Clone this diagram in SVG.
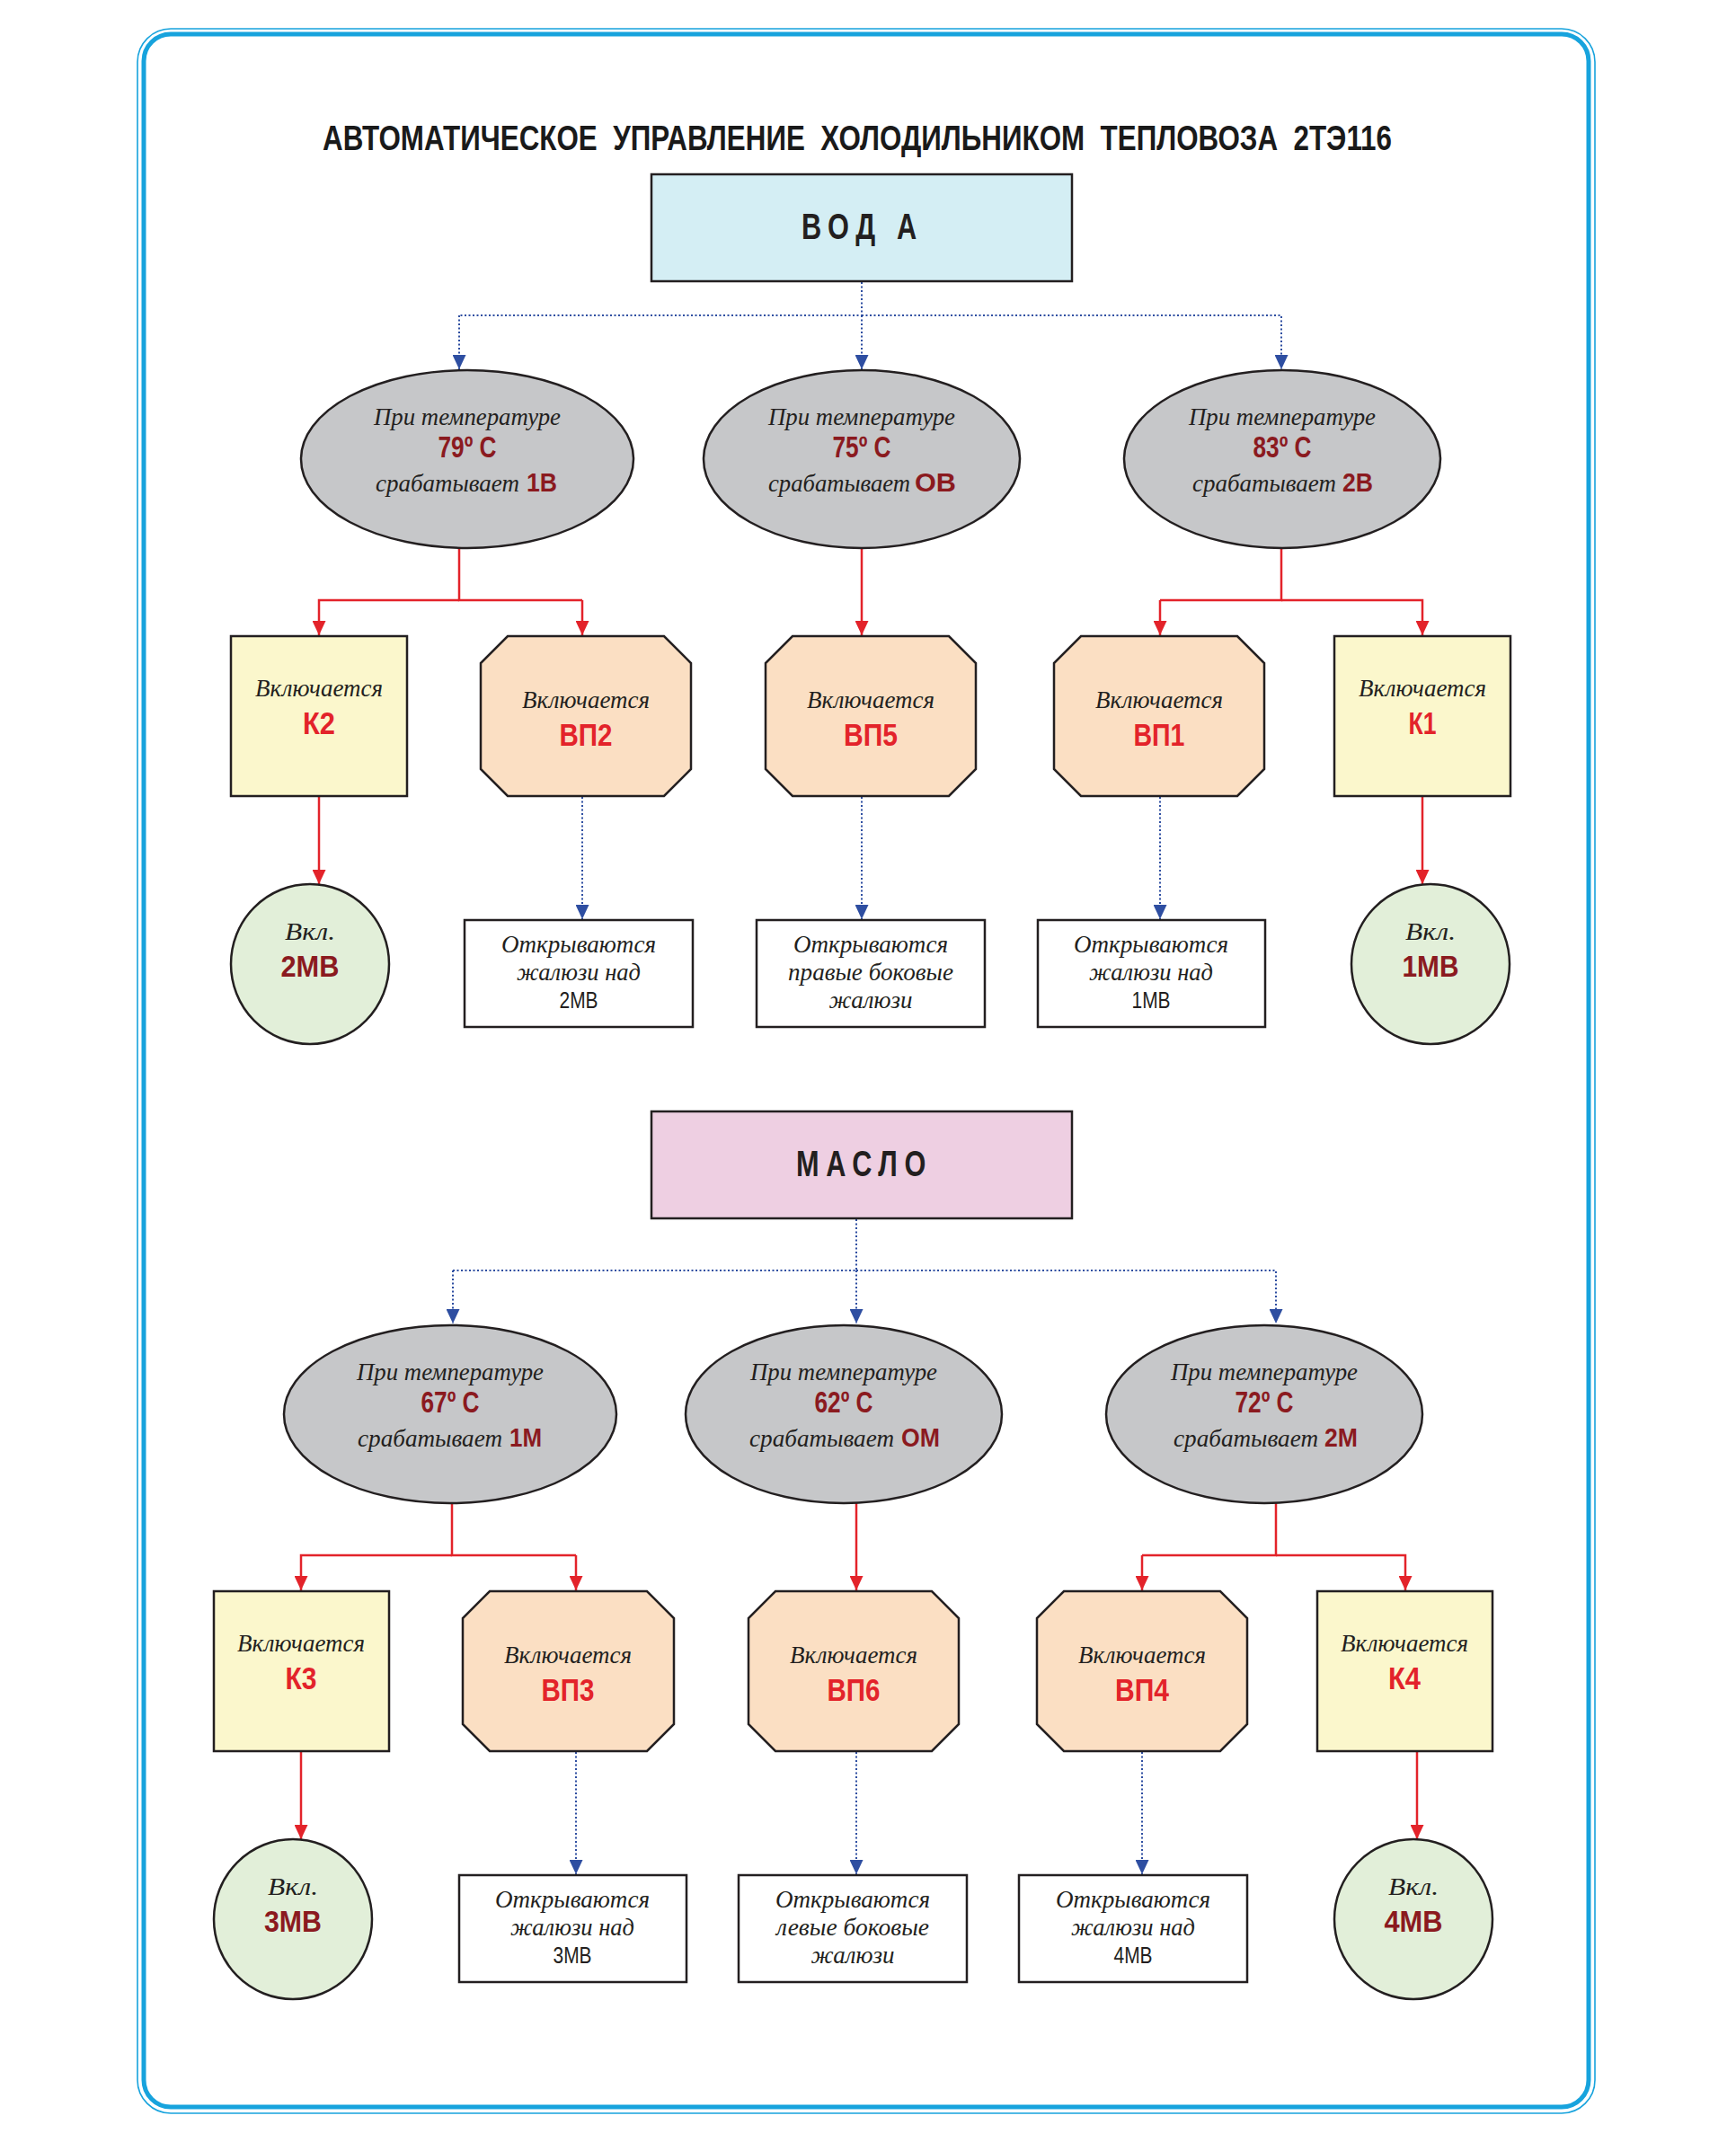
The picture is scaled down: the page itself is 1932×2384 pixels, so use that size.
<svg xmlns="http://www.w3.org/2000/svg" width="1932" height="2384" viewBox="0 0 1932 2384">
<style>
.n{stroke:#231f20;stroke-width:2.5}
.ell{fill:#c6c7c9}
.yel{fill:#fbf7cc}
.oct{fill:#fbdfc3}
.grn{fill:#e2efd9}
.box{fill:#ffffff}
.it{font-family:"Liberation Serif",serif;font-style:italic;font-size:28px;fill:#231f20;text-anchor:middle}
.b{font-family:"Liberation Sans Narrow","Liberation Sans",sans-serif;font-weight:bold;text-anchor:middle}
.dr{fill:#8b1a1f}
.rd{fill:#e3232a}
.t{font-size:33px}
.c{font-size:29px}
.lab{font-size:35px}
.sans{font-family:"Liberation Sans Narrow","Liberation Sans",sans-serif;font-size:26px;text-anchor:middle;fill:#231f20}
.st{text-anchor:start}
.red{stroke:#e3232a;stroke-width:2.5;fill:none;marker-end:url(#ar)}
.redn{stroke:#e3232a;stroke-width:2.5;fill:none}
.blue{stroke:#2e4ea1;stroke-width:2;stroke-dasharray:2 2.5;fill:none;marker-end:url(#ab)}
.bluen{stroke:#2e4ea1;stroke-width:2;stroke-dasharray:2 2.5;fill:none}
</style>
<defs>
<marker id="ar" markerUnits="userSpaceOnUse" markerWidth="16" markerHeight="15" viewBox="0 0 16 15" refX="16" refY="7.5" orient="auto"><path d="M0,0 L16,7.5 L0,15 z" fill="#e3232a"/></marker>
<marker id="ab" markerUnits="userSpaceOnUse" markerWidth="16" markerHeight="15" viewBox="0 0 16 15" refX="16" refY="7.5" orient="auto"><path d="M0,0 L16,7.5 L0,15 z" fill="#2e4ea1"/></marker>
</defs>
<rect width="1932" height="2384" fill="#ffffff"/>
<g id="frame" fill="none" stroke="#17a3dd">
<rect x="153" y="32" width="1622" height="2320" rx="37" stroke-width="1.6"/>
<rect x="160" y="38" width="1608" height="2307" rx="30" stroke-width="5"/>
</g>
<text id="title" x="954" y="167" class="b" font-size="39" fill="#1a1a1a" xml:space="preserve" textLength="1190" lengthAdjust="spacingAndGlyphs">АВТОМАТИЧЕСКОЕ  УПРАВЛЕНИЕ  ХОЛОДИЛЬНИКОМ  ТЕПЛОВОЗА  2ТЭ116</text>

<g id="connectors">
<path class="bluen" d="M959,314 V351 H511"/>
<path class="blue" d="M511,351 V411"/>
<path class="blue" d="M959,351 V411"/>
<path class="blue" d="M959,351 H1426 V411"/>
<path class="redn" d="M511,610 V668 H648"/>
<path class="red" d="M511,668 H355 V707"/>
<path class="red" d="M648,668 V707"/>
<path class="red" d="M959,610 V707"/>
<path class="redn" d="M1426,610 V668 H1291"/>
<path class="red" d="M1291,668 V707"/>
<path class="red" d="M1426,668 H1583 V707"/>
<path class="red" d="M355,887 V984"/>
<path class="red" d="M1583,887 V984"/>
<path class="blue" d="M648,887 V1023"/>
<path class="blue" d="M959,887 V1023"/>
<path class="blue" d="M1291,887 V1023"/>

<path class="bluen" d="M953,1357 V1414 H504"/>
<path class="blue" d="M504,1414 V1473"/>
<path class="blue" d="M953,1414 V1473"/>
<path class="blue" d="M953,1414 H1420 V1473"/>
<path class="redn" d="M503,1672 V1731 H641"/>
<path class="red" d="M503,1731 H335 V1770"/>
<path class="red" d="M641,1731 V1770"/>
<path class="red" d="M953,1672 V1770"/>
<path class="redn" d="M1420,1672 V1731 H1271"/>
<path class="red" d="M1271,1731 V1770"/>
<path class="red" d="M1420,1731 H1564 V1770"/>
<path class="red" d="M335,1950 V2047"/>
<path class="red" d="M1577,1950 V2047"/>
<path class="blue" d="M641,1950 V2086"/>
<path class="blue" d="M953,1950 V2086"/>
<path class="blue" d="M1271,1950 V2086"/>
</g>

<g id="voda">
<rect class="n" x="725" y="194" width="468" height="119" fill="#d4eef4"/>
<text x="960" y="266" class="b" font-size="40" fill="#231f20" letter-spacing="10" xml:space="preserve" textLength="136" lengthAdjust="spacingAndGlyphs">ВОД А</text>
</g>

<g id="e1">
<ellipse class="n ell" cx="520" cy="511" rx="185" ry="99"/>
<text class="it" x="520" y="473" textLength="208" lengthAdjust="spacingAndGlyphs">При температуре</text>
<text class="b dr t" x="520" y="509" textLength="65" lengthAdjust="spacingAndGlyphs">79º C</text>
<text class="it st" x="418" y="547" textLength="160" lengthAdjust="spacingAndGlyphs">срабатывает</text>
<text class="b dr c st" x="586" y="547" textLength="34" lengthAdjust="spacingAndGlyphs">1В</text>
</g>
<g id="e2">
<ellipse class="n ell" cx="959" cy="511" rx="176" ry="99"/>
<text class="it" x="959" y="473" textLength="208" lengthAdjust="spacingAndGlyphs">При температуре</text>
<text class="b dr t" x="959" y="509" textLength="65" lengthAdjust="spacingAndGlyphs">75º C</text>
<text class="it st" x="855" y="547" textLength="158" lengthAdjust="spacingAndGlyphs">срабатывает</text>
<text class="b dr c st" x="1018" y="547" textLength="46" lengthAdjust="spacingAndGlyphs">ОВ</text>
</g>
<g id="e3">
<ellipse class="n ell" cx="1427" cy="511" rx="176" ry="99"/>
<text class="it" x="1427" y="473" textLength="208" lengthAdjust="spacingAndGlyphs">При температуре</text>
<text class="b dr t" x="1427" y="509" textLength="65" lengthAdjust="spacingAndGlyphs">83º C</text>
<text class="it st" x="1327" y="547" textLength="160" lengthAdjust="spacingAndGlyphs">срабатывает</text>
<text class="b dr c st" x="1494" y="547" textLength="34" lengthAdjust="spacingAndGlyphs">2В</text>
</g>

<g id="k2">
<rect class="n yel" x="257" y="708" width="196" height="178"/>
<text class="it" x="355" y="775" textLength="142" lengthAdjust="spacingAndGlyphs">Включается</text>
<text class="b rd lab" x="355" y="817" textLength="36" lengthAdjust="spacingAndGlyphs">К2</text>
</g>
<g id="vp2">
<polygon class="n oct" points="565,708 739,708 769,738 769,856 739,886 565,886 535,856 535,738"/>
<text class="it" x="652" y="788" textLength="142" lengthAdjust="spacingAndGlyphs">Включается</text>
<text class="b rd lab" x="652" y="830" textLength="59" lengthAdjust="spacingAndGlyphs">ВП2</text>
</g>
<g id="vp5">
<polygon class="n oct" points="882,708 1056,708 1086,738 1086,856 1056,886 882,886 852,856 852,738"/>
<text class="it" x="969" y="788" textLength="142" lengthAdjust="spacingAndGlyphs">Включается</text>
<text class="b rd lab" x="969" y="830" textLength="60" lengthAdjust="spacingAndGlyphs">ВП5</text>
</g>
<g id="vp1">
<polygon class="n oct" points="1203,708 1377,708 1407,738 1407,856 1377,886 1203,886 1173,856 1173,738"/>
<text class="it" x="1290" y="788" textLength="142" lengthAdjust="spacingAndGlyphs">Включается</text>
<text class="b rd lab" x="1290" y="830" textLength="57" lengthAdjust="spacingAndGlyphs">ВП1</text>
</g>
<g id="k1">
<rect class="n yel" x="1485" y="708" width="196" height="178"/>
<text class="it" x="1583" y="775" textLength="142" lengthAdjust="spacingAndGlyphs">Включается</text>
<text class="b rd lab" x="1583" y="817" textLength="31" lengthAdjust="spacingAndGlyphs">К1</text>
</g>

<g id="mv2">
<ellipse class="n grn" cx="345" cy="1073" rx="88" ry="89"/>
<text class="it" x="345" y="1046" textLength="56" lengthAdjust="spacingAndGlyphs">Вкл.</text>
<text class="b dr t" x="345" y="1087" textLength="65" lengthAdjust="spacingAndGlyphs">2МВ</text>
</g>
<g id="box2mv">
<rect class="n box" x="517" y="1024" width="254" height="119"/>
<text class="it" x="644" y="1060" textLength="172" lengthAdjust="spacingAndGlyphs">Открываются</text>
<text class="it" x="644" y="1091" textLength="138" lengthAdjust="spacingAndGlyphs">жалюзи над</text>
<text class="sans" x="644" y="1122" textLength="43" lengthAdjust="spacingAndGlyphs">2МВ</text>
</g>
<g id="boxright">
<rect class="n box" x="842" y="1024" width="254" height="119"/>
<text class="it" x="969" y="1060" textLength="172" lengthAdjust="spacingAndGlyphs">Открываются</text>
<text class="it" x="969" y="1091" textLength="184" lengthAdjust="spacingAndGlyphs">правые боковые</text>
<text class="it" x="969" y="1122" textLength="93" lengthAdjust="spacingAndGlyphs">жалюзи</text>
</g>
<g id="box1mv">
<rect class="n box" x="1155" y="1024" width="253" height="119"/>
<text class="it" x="1281" y="1060" textLength="172" lengthAdjust="spacingAndGlyphs">Открываются</text>
<text class="it" x="1281" y="1091" textLength="138" lengthAdjust="spacingAndGlyphs">жалюзи над</text>
<text class="sans" x="1281" y="1122" textLength="43" lengthAdjust="spacingAndGlyphs">1МВ</text>
</g>
<g id="mv1">
<ellipse class="n grn" cx="1592" cy="1073" rx="88" ry="89"/>
<text class="it" x="1592" y="1046" textLength="56" lengthAdjust="spacingAndGlyphs">Вкл.</text>
<text class="b dr t" x="1592" y="1087" textLength="63" lengthAdjust="spacingAndGlyphs">1МВ</text>
</g>

<g id="maslo">
<rect class="n" x="725" y="1237" width="468" height="119" fill="#eecfe2"/>
<text x="962" y="1309" class="b" font-size="40" fill="#231f20" letter-spacing="10" textLength="152" lengthAdjust="spacingAndGlyphs">МАСЛО</text>
</g>

<g id="e4">
<ellipse class="n ell" cx="501" cy="1574" rx="185" ry="99"/>
<text class="it" x="501" y="1536" textLength="208" lengthAdjust="spacingAndGlyphs">При температуре</text>
<text class="b dr t" x="501" y="1572" textLength="65" lengthAdjust="spacingAndGlyphs">67º C</text>
<text class="it st" x="398" y="1610" textLength="161" lengthAdjust="spacingAndGlyphs">срабатывает</text>
<text class="b dr c st" x="567" y="1610" textLength="36" lengthAdjust="spacingAndGlyphs">1М</text>
</g>
<g id="e5">
<ellipse class="n ell" cx="939" cy="1574" rx="176" ry="99"/>
<text class="it" x="939" y="1536" textLength="208" lengthAdjust="spacingAndGlyphs">При температуре</text>
<text class="b dr t" x="939" y="1572" textLength="65" lengthAdjust="spacingAndGlyphs">62º C</text>
<text class="it st" x="834" y="1610" textLength="161" lengthAdjust="spacingAndGlyphs">срабатывает</text>
<text class="b dr c st" x="1003" y="1610" textLength="43" lengthAdjust="spacingAndGlyphs">ОМ</text>
</g>
<g id="e6">
<ellipse class="n ell" cx="1407" cy="1574" rx="176" ry="99"/>
<text class="it" x="1407" y="1536" textLength="208" lengthAdjust="spacingAndGlyphs">При температуре</text>
<text class="b dr t" x="1407" y="1572" textLength="65" lengthAdjust="spacingAndGlyphs">72º C</text>
<text class="it st" x="1306" y="1610" textLength="161" lengthAdjust="spacingAndGlyphs">срабатывает</text>
<text class="b dr c st" x="1474" y="1610" textLength="37" lengthAdjust="spacingAndGlyphs">2М</text>
</g>

<g id="k3">
<rect class="n yel" x="238" y="1771" width="195" height="178"/>
<text class="it" x="335" y="1838" textLength="142" lengthAdjust="spacingAndGlyphs">Включается</text>
<text class="b rd lab" x="335" y="1880" textLength="35" lengthAdjust="spacingAndGlyphs">К3</text>
</g>
<g id="vp3">
<polygon class="n oct" points="545,1771 720,1771 750,1801 750,1919 720,1949 545,1949 515,1919 515,1801"/>
<text class="it" x="632" y="1851" textLength="142" lengthAdjust="spacingAndGlyphs">Включается</text>
<text class="b rd lab" x="632" y="1893" textLength="59" lengthAdjust="spacingAndGlyphs">ВП3</text>
</g>
<g id="vp6">
<polygon class="n oct" points="863,1771 1037,1771 1067,1801 1067,1919 1037,1949 863,1949 833,1919 833,1801"/>
<text class="it" x="950" y="1851" textLength="142" lengthAdjust="spacingAndGlyphs">Включается</text>
<text class="b rd lab" x="950" y="1893" textLength="59" lengthAdjust="spacingAndGlyphs">ВП6</text>
</g>
<g id="vp4">
<polygon class="n oct" points="1184,1771 1358,1771 1388,1801 1388,1919 1358,1949 1184,1949 1154,1919 1154,1801"/>
<text class="it" x="1271" y="1851" textLength="142" lengthAdjust="spacingAndGlyphs">Включается</text>
<text class="b rd lab" x="1271" y="1893" textLength="60" lengthAdjust="spacingAndGlyphs">ВП4</text>
</g>
<g id="k4">
<rect class="n yel" x="1466" y="1771" width="195" height="178"/>
<text class="it" x="1563" y="1838" textLength="142" lengthAdjust="spacingAndGlyphs">Включается</text>
<text class="b rd lab" x="1563" y="1880" textLength="36" lengthAdjust="spacingAndGlyphs">К4</text>
</g>

<g id="mv3">
<ellipse class="n grn" cx="326" cy="2136" rx="88" ry="89"/>
<text class="it" x="326" y="2109" textLength="56" lengthAdjust="spacingAndGlyphs">Вкл.</text>
<text class="b dr t" x="326" y="2150" textLength="64" lengthAdjust="spacingAndGlyphs">3МВ</text>
</g>
<g id="box3mv">
<rect class="n box" x="511" y="2087" width="253" height="119"/>
<text class="it" x="637" y="2123" textLength="172" lengthAdjust="spacingAndGlyphs">Открываются</text>
<text class="it" x="637" y="2154" textLength="138" lengthAdjust="spacingAndGlyphs">жалюзи над</text>
<text class="sans" x="637" y="2185" textLength="43" lengthAdjust="spacingAndGlyphs">3МВ</text>
</g>
<g id="boxleft">
<rect class="n box" x="822" y="2087" width="254" height="119"/>
<text class="it" x="949" y="2123" textLength="172" lengthAdjust="spacingAndGlyphs">Открываются</text>
<text class="it" x="949" y="2154" textLength="170" lengthAdjust="spacingAndGlyphs">левые боковые</text>
<text class="it" x="949" y="2185" textLength="93" lengthAdjust="spacingAndGlyphs">жалюзи</text>
</g>
<g id="box4mv">
<rect class="n box" x="1134" y="2087" width="254" height="119"/>
<text class="it" x="1261" y="2123" textLength="172" lengthAdjust="spacingAndGlyphs">Открываются</text>
<text class="it" x="1261" y="2154" textLength="138" lengthAdjust="spacingAndGlyphs">жалюзи над</text>
<text class="sans" x="1261" y="2185" textLength="43" lengthAdjust="spacingAndGlyphs">4МВ</text>
</g>
<g id="mv4">
<ellipse class="n grn" cx="1573" cy="2136" rx="88" ry="89"/>
<text class="it" x="1573" y="2109" textLength="56" lengthAdjust="spacingAndGlyphs">Вкл.</text>
<text class="b dr t" x="1573" y="2150" textLength="65" lengthAdjust="spacingAndGlyphs">4МВ</text>
</g>
</svg>
